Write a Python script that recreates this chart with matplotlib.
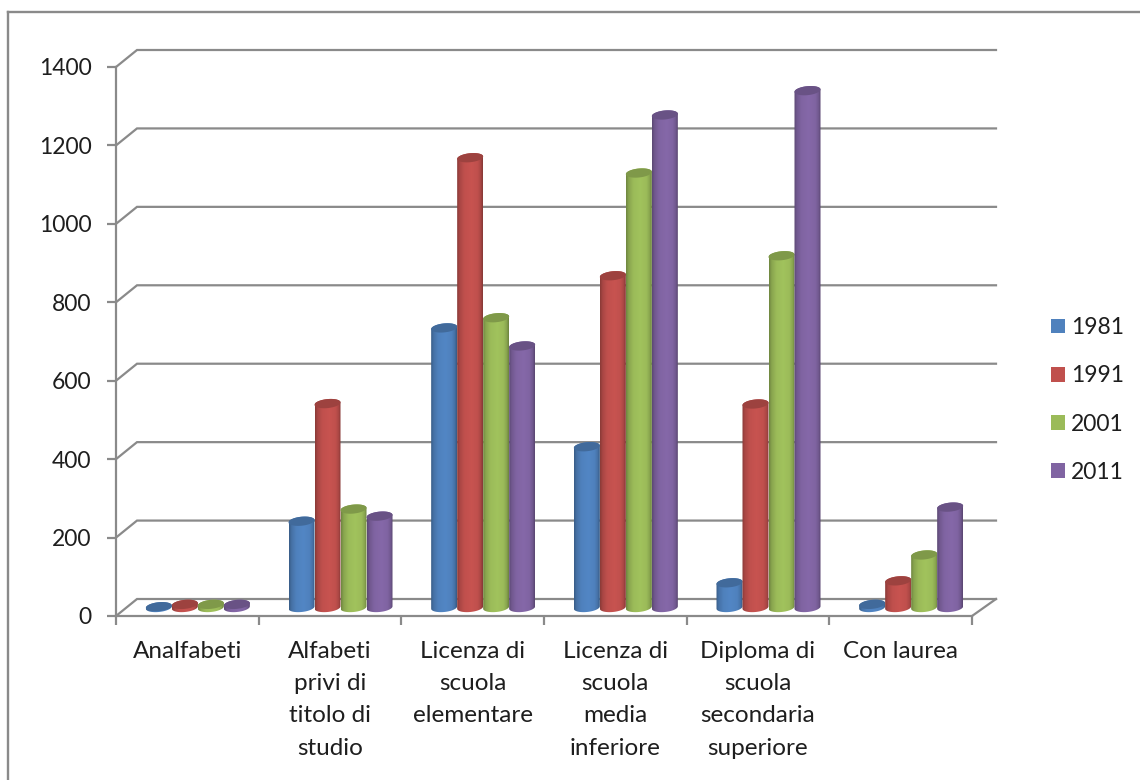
import numpy as np
import matplotlib
matplotlib.use('Agg')
import matplotlib.pyplot as plt
from matplotlib.lines import Line2D
from matplotlib.patches import Patch, PathPatch, Polygon
from matplotlib.path import Path
from matplotlib.colors import to_rgb

plt.rcParams['font.family'] = ['Lato', 'DejaVu Sans']

categories = ['Analfabeti', 'Alfabeti\nprivi di\ntitolo di\nstudio', 'Licenza di\nscuola\nelementare',
              'Licenza di\nscuola\nmedia\ninferiore', 'Diploma di\nscuola\nsecondaria\nsuperiore', 'Con laurea']
years = ['1981', '1991', '2001', '2011']
v1981 = [2, 220, 713, 410, 63, 8]
v1991 = [8, 520, 1147, 846, 519, 68]
v2001 = [8, 251, 739, 1108, 897, 134]
v2011 = [8, 233, 667, 1256, 1318, 256]
colors = ['#4F81BD', '#C0504D', '#9BBB59', '#8064A2']
yticks = [0, 200, 400, 600, 800, 1000, 1200, 1400]

W, H = 1140, 780
GRID = '#8A8A8A'
TEXT = '#1E1E1E'

fig = plt.figure(figsize=(W / 100, H / 100), dpi=100)
ax = fig.add_axes([116 / W, 1 - 616 / H, 856 / W, 549 / H])
ax.set_xlim(0, 6)
ax.set_ylim(0, 1400)

# pixel sizes expressed in data units
px_x = 6 / 856
px_y = 1400 / 549
depth_x = 21 * px_x
depth_y = 17 * px_y
back_end = 6 + 24 * px_x

# outer frame, open at the right and at the bottom
for xs, ys in [([8, 8], [780, 12]), ([8, 1140], [12, 12])]:
    fig.add_artist(Line2D(np.array(xs) / W, 1 - np.array(ys) / H, color=GRID, lw=1.7))

# back wall and side wall lines
for v in yticks:
    ax.plot([0, depth_x, back_end], [v, v + depth_y, v + depth_y],
            color=GRID, lw=1.6, clip_on=False, zorder=1, solid_joinstyle='miter')
ax.plot([6, back_end], [0, depth_y], color=GRID, lw=1.6, clip_on=False, zorder=1)

for s in ['top', 'right']:
    ax.spines[s].set_visible(False)
for s in ['left', 'bottom']:
    ax.spines[s].set_color(GRID)
    ax.spines[s].set_linewidth(1.6)

ax.set_yticks(yticks)
ax.set_xticks(range(7))
ax.set_xticklabels([])
ax.set_xticks(np.arange(6) + 0.5, categories, minor=True)
ax.tick_params(axis='y', length=6.5, width=1.6, color=GRID, pad=11, labelsize=16.5, labelcolor=TEXT)
ax.tick_params(axis='x', which='major', length=6.5, width=1.6, color=GRID)
ax.tick_params(axis='x', which='minor', length=0, pad=18, labelsize=17.5, labelcolor=TEXT)
for lab in ax.get_xticklabels(minor=True):
    lab.set_linespacing(1.66)
    lab.set_verticalalignment('top')


def shade(color, f):
    return tuple(min(1, c * f) for c in to_rgb(color))


def ring(cx, cy, a, t):
    # slightly tilted ellipse, the right side sits higher
    b = 4.5 * px_y
    tilt = 1.2 * px_y
    return np.column_stack([cx + a * np.cos(t), cy + b * np.sin(t) + tilt * np.cos(t)])


def cylinder(cx, value, width, color, zorder):
    a = width / 2
    base = depth_y / 2
    top = base + value
    lower = ring(cx, base, a, np.linspace(np.pi, 2 * np.pi, 40))
    upper = ring(cx, top, a, np.linspace(0, np.pi, 40))
    outline = Path(np.vstack([lower, upper, lower[:1]]), closed=False)
    clip = PathPatch(outline, transform=ax.transData, fc='none', ec='none')
    ax.add_patch(clip)

    # shading across the round body
    pos = [0, 0.1, 0.28, 0.55, 0.8, 0.92, 1]
    fac = [0.72, 0.88, 1.0, 1.04, 1.0, 0.88, 0.7]
    rgb = np.array([shade(color, f) for f in np.interp(np.linspace(0, 1, 60), pos, fac)])
    im = ax.imshow(rgb[None, :, :], extent=[cx - a, cx + a, base - 6 * px_y, top + 6 * px_y],
                   aspect='auto', origin='lower', zorder=zorder, interpolation='bilinear')
    im.set_clip_path(clip)
    im.set_clip_on(True)
    cap = ring(cx, top, a, np.linspace(0, 2 * np.pi, 80))
    ax.add_patch(Polygon(cap, closed=True, fc=shade(color, 0.82), ec='none', zorder=zorder, clip_on=False))


series = [v1981, v1991, v2001, v2011]
bar_w = 26 * px_x
for i in range(len(categories)):
    center = i + 0.5 + depth_x / 2
    for j, vals in enumerate(series):
        cylinder(center + (j - 1.5) * bar_w, vals[i], bar_w, colors[j], 3 + j)

ax.set_xlim(0, 6)
ax.set_ylim(0, 1400)
ax.set_aspect('auto')

handles = [Patch(fc=c, ec='none', label=y) for c, y in zip(colors, years)]
ax.legend(handles=handles, loc='center left', bbox_to_anchor=(1051 / W, 1 - 400 / H),
          bbox_transform=fig.transFigure, frameon=False, fontsize=16.5, labelcolor=TEXT,
          handlelength=0.62, handleheight=0.62, handletextpad=0.24, labelspacing=1.19,
          borderpad=0, borderaxespad=0)

fig.savefig('out.png', dpi=100, facecolor='white')
